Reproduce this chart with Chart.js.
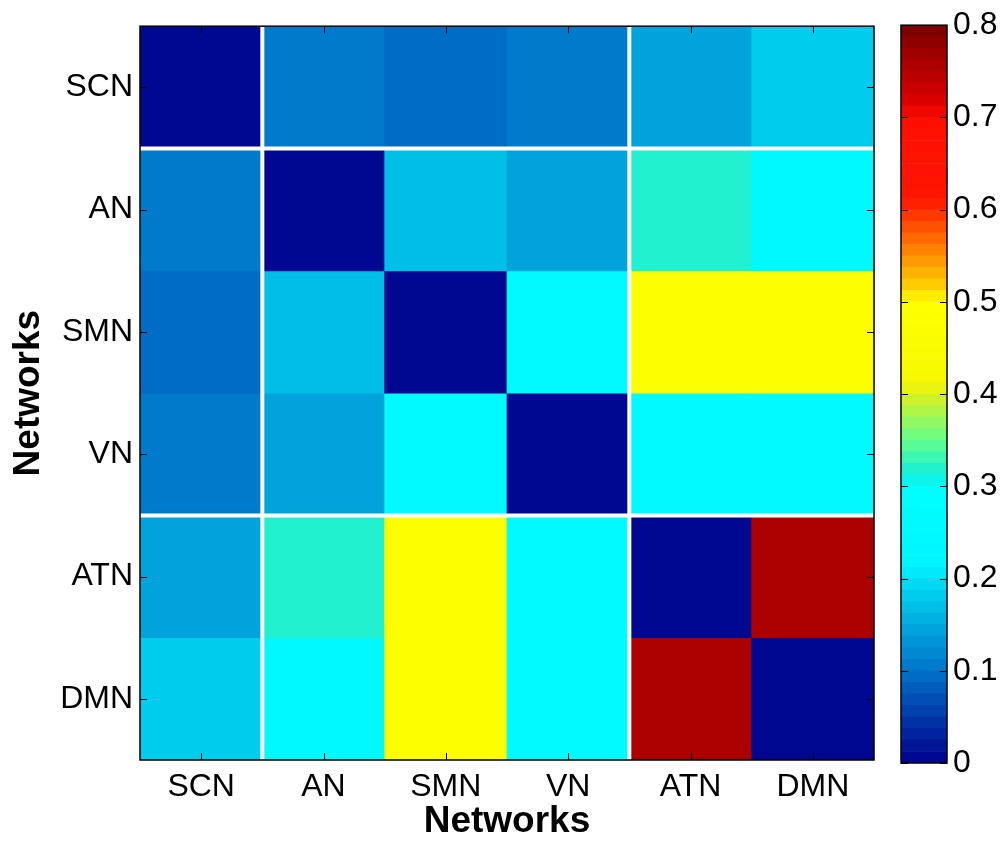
<!DOCTYPE html>
<html>
<head>
<meta charset="utf-8">
<script src="https://cdn.jsdelivr.net/npm/chart.js@4"></script>
<style>
  body { margin: 0; background: #fff; }
  #wrap { position: relative; width: 1007px; height: 848px; }
  #heat { position: absolute; left: 0; top: 0; }
  #bar { position: absolute; left: 895px; top: 0; }
</style>
</head>
<body>
<div id="wrap">
  <canvas id="heat" width="1007" height="848"></canvas>
  <canvas id="bar" width="112" height="848"></canvas>
</div>
<script>
// --- DATA ---
const networks = ['SCN', 'AN', 'SMN', 'VN', 'ATN', 'DMN'];
const rowSCN = [0.000, 0.105, 0.095, 0.100, 0.148, 0.185];
const rowAN  = [0.105, 0.000, 0.173, 0.140, 0.315, 0.240];
const rowSMN = [0.095, 0.173, 0.000, 0.250, 0.480, 0.480];
const rowVN  = [0.100, 0.140, 0.250, 0.000, 0.260, 0.260];
const rowATN = [0.148, 0.315, 0.480, 0.260, 0.000, 0.760];
const rowDMN = [0.185, 0.240, 0.480, 0.260, 0.760, 0.000];
const matrix = [rowSCN, rowAN, rowSMN, rowVN, rowATN, rowDMN];
const groupStarts = [1, 4];          // white lines before these networks
const colorbarTicks = [0, 0.1, 0.2, 0.3, 0.4, 0.5, 0.6, 0.7, 0.8];

const FONT = "'Liberation Sans', Arial, Helvetica, sans-serif";
Chart.defaults.font.family = FONT;
Chart.defaults.color = '#000';

// --- COLORMAP (64 levels, jet-like with flat plateaus) ---
const cMin = 0, cMax = 0.8, nLevels = 64;
const stops = [
  [0.0,    [0, 0, 140]],
  [0.1,    [0, 115, 200]],
  [0.2,    [0, 225, 245]],
  [0.2125, [0, 245, 255]],
  [0.3,    [0, 255, 255]],
  [0.3125, [20, 238, 220]],
  [0.35,   [100, 255, 140]],
  [0.4,    [220, 240, 30]],
  [0.4125, [245, 248, 0]],
  [0.5,    [255, 255, 0]],
  [0.5125, [255, 215, 0]],
  [0.6,    [255, 45, 0]],
  [0.6125, [255, 20, 0]],
  [0.7,    [255, 15, 0]],
  [0.7125, [225, 0, 0]],
  [0.8,    [120, 0, 0]]
];

function lerpStops(v) {
  for (let i = 1; i < stops.length; i++) {
    if (v <= stops[i][0]) {
      const [v0, c0] = stops[i - 1], [v1, c1] = stops[i];
      const t = (v - v0) / (v1 - v0);
      return c0.map((c, k) => Math.round(c + (c1[k] - c) * t));
    }
  }
  return stops[stops.length - 1][1];
}

const step = (cMax - cMin) / nLevels;
function levelColor(i) {
  const c = lerpStops(cMin + (i + 0.5) * step);
  return `rgb(${c[0]},${c[1]},${c[2]})`;
}
function cmap(v) {
  const i = Math.max(0, Math.min(nLevels - 1, Math.floor((v - cMin) / step)));
  return levelColor(i);
}

// --- HEATMAP ---
const heatDeco = {
  id: 'heatDeco',
  afterDatasetsDraw(chart) {
    const { ctx, chartArea: a, scales: { x, y } } = chart;
    ctx.save();
    // group separators
    ctx.strokeStyle = '#fff';
    ctx.lineWidth = 4;
    groupStarts.forEach(i => {
      const px = (x.getPixelForValue(i - 1) + x.getPixelForValue(i)) / 2;
      const py = y.getPixelForValue(i);
      ctx.beginPath(); ctx.moveTo(px, a.top); ctx.lineTo(px, a.bottom); ctx.stroke();
      ctx.beginPath(); ctx.moveTo(a.left, py); ctx.lineTo(a.right, py); ctx.stroke();
    });
    // inner tick marks on all four sides
    ctx.strokeStyle = '#000';
    ctx.lineWidth = 1;
    const tl = 7;
    networks.forEach((_, i) => {
      const px = Math.round(x.getPixelForValue(i)) + 0.5;
      const py = Math.round(y.getPixelForValue(i + 0.5)) + 0.5;
      ctx.beginPath();
      ctx.moveTo(px, a.top); ctx.lineTo(px, a.top + tl);
      ctx.moveTo(px, a.bottom); ctx.lineTo(px, a.bottom - tl);
      ctx.moveTo(a.left, py); ctx.lineTo(a.left + tl, py);
      ctx.moveTo(a.right, py); ctx.lineTo(a.right - tl, py);
      ctx.stroke();
    });
    ctx.lineWidth = 1.5;
    ctx.strokeRect(a.left, a.top, a.right - a.left, a.bottom - a.top);
    ctx.restore();
  }
};

new Chart(document.getElementById('heat'), {
  type: 'bar',
  data: {
    labels: networks,
    datasets: matrix.map((row, r) => ({
      data: row.map(() => [r, r + 1]),
      backgroundColor: row.map(v => cmap(v)),
      borderWidth: 0,
      barPercentage: 1,
      categoryPercentage: 1,
      grouped: false
    }))
  },
  options: {
    responsive: false,
    animation: false,
    layout: { padding: { left: 0, top: 25, right: 133, bottom: 0 } },
    plugins: { legend: { display: false }, tooltip: { enabled: false } },
    scales: {
      x: {
        offset: true,
        grid: { display: false, drawTicks: false },
        border: { display: false },
        ticks: { font: { size: 32 }, padding: 8, maxRotation: 0 },
        title: {
          display: true, text: 'Networks',
          font: { size: 37, weight: 'bold' },
          padding: { top: 0, bottom: 4 }
        },
        afterFit: s => { s.height = 88; }
      },
      y: {
        type: 'linear', min: 0, max: 6, reverse: true,
        grid: { display: false, drawTicks: false },
        border: { display: false },
        afterBuildTicks: s => { s.ticks = networks.map((_, i) => ({ value: i + 0.5 })); },
        ticks: { font: { size: 32 }, padding: 7, callback: v => networks[Math.floor(v)] },
        title: {
          display: true, text: 'Networks',
          font: { size: 37, weight: 'bold' },
          padding: { top: 7, bottom: 0 }
        },
        afterFit: s => { s.width = 140; }
      }
    }
  },
  plugins: [heatDeco]
});

// --- COLORBAR ---
const barDeco = {
  id: 'barDeco',
  afterDatasetsDraw(chart) {
    const { ctx, chartArea: a, scales: { y } } = chart;
    ctx.save();
    ctx.strokeStyle = '#000';
    ctx.lineWidth = 1;
    colorbarTicks.forEach(t => {
      const py = Math.round(y.getPixelForValue(t)) + 0.5;
      ctx.beginPath();
      ctx.moveTo(a.left, py); ctx.lineTo(a.left + 7, py);
      ctx.moveTo(a.right, py); ctx.lineTo(a.right - 7, py);
      ctx.stroke();
    });
    ctx.lineWidth = 1.5;
    ctx.strokeRect(a.left, a.top, a.right - a.left, a.bottom - a.top);
    ctx.restore();
  }
};

new Chart(document.getElementById('bar'), {
  type: 'bar',
  data: {
    labels: [''],
    datasets: Array.from({ length: nLevels }, (_, i) => ({
      data: [step],
      backgroundColor: levelColor(i),
      borderWidth: 0,
      barPercentage: 1,
      categoryPercentage: 1
    }))
  },
  options: {
    responsive: false,
    animation: false,
    layout: { padding: { left: 6, top: 25, right: 0, bottom: 85 } },
    plugins: { legend: { display: false }, tooltip: { enabled: false } },
    scales: {
      x: { display: false, stacked: true },
      y: {
        position: 'right', stacked: true, min: cMin, max: cMax,
        grid: { display: false, drawTicks: false },
        border: { display: false },
        afterBuildTicks: s => { s.ticks = colorbarTicks.map(v => ({ value: v })); },
        ticks: { font: { size: 32 }, padding: 6, callback: v => v === 0 ? '0' : v.toFixed(1) },
        afterFit: s => { s.width = 60; }
      }
    }
  },
  plugins: [barDeco]
});
</script>
</body>
</html>
